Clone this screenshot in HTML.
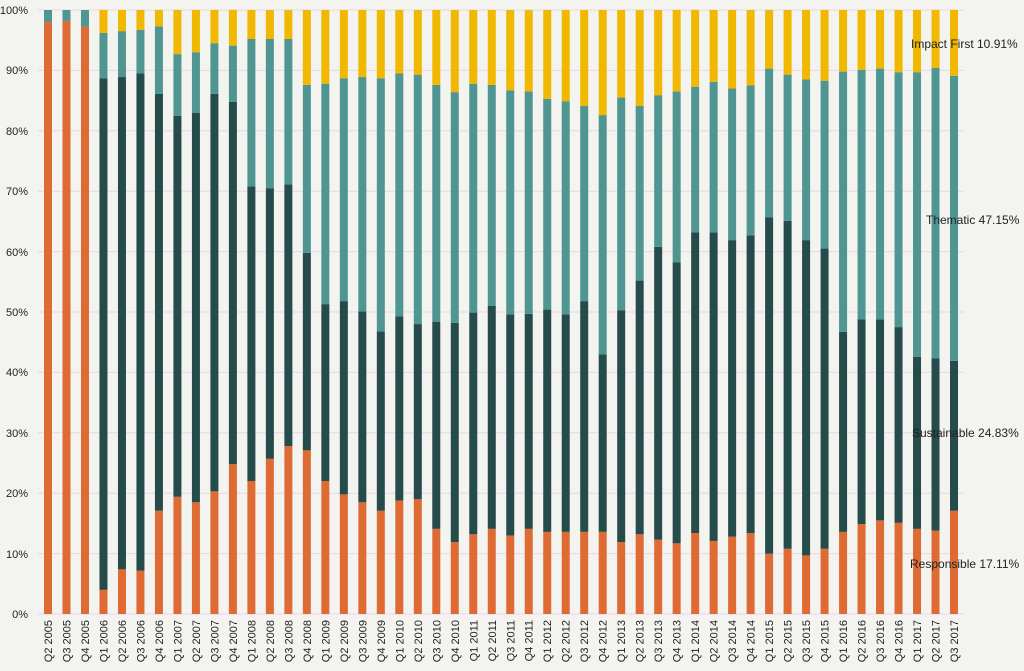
<!DOCTYPE html>
<html><head><meta charset="utf-8"><style>
html,body{margin:0;padding:0;background:#f3f3ef;}
svg{display:block;font-family:"Liberation Sans",sans-serif;}
</style></head><body>
<svg id="c" width="1024" height="671" viewBox="0 0 1024 671">
<rect width="1024" height="671" fill="#f3f3ef"/>
<g id="grid" stroke="#ecd3ec" stroke-width="1"></g>
<g id="bars"></g>
<g font-size="11" fill="#222" text-anchor="end">
<text x="28" y="618">0%</text><text x="28" y="558">10%</text><text x="28" y="497">20%</text><text x="28" y="437">30%</text><text x="28" y="376">40%</text><text x="28" y="316">50%</text><text x="28" y="256">60%</text><text x="28" y="195">70%</text><text x="28" y="135">80%</text><text x="28" y="74">90%</text><text x="28" y="14">100%</text>
</g>
<g id="xl" font-size="11" fill="#222" text-anchor="end">
<text>Q2 2005</text><text>Q3 2005</text><text>Q4 2005</text>
<text>Q1 2006</text><text>Q2 2006</text><text>Q3 2006</text><text>Q4 2006</text>
<text>Q1 2007</text><text>Q2 2007</text><text>Q3 2007</text><text>Q4 2007</text>
<text>Q1 2008</text><text>Q2 2008</text><text>Q3 2008</text><text>Q4 2008</text>
<text>Q1 2009</text><text>Q2 2009</text><text>Q3 2009</text><text>Q4 2009</text>
<text>Q1 2010</text><text>Q2 2010</text><text>Q3 2010</text><text>Q4 2010</text>
<text>Q1 2011</text><text>Q2 2011</text><text>Q3 2011</text><text>Q4 2011</text>
<text>Q1 2012</text><text>Q2 2012</text><text>Q3 2012</text><text>Q4 2012</text>
<text>Q1 2013</text><text>Q2 2013</text><text>Q3 2013</text><text>Q4 2013</text>
<text>Q1 2014</text><text>Q2 2014</text><text>Q3 2014</text><text>Q4 2014</text>
<text>Q1 2015</text><text>Q2 2015</text><text>Q3 2015</text><text>Q4 2015</text>
<text>Q1 2016</text><text>Q2 2016</text><text>Q3 2016</text><text>Q4 2016</text>
<text>Q1 2017</text><text>Q2 2017</text><text>Q3 2017</text>
</g>
<g font-size="12" fill="#222">
<text x="911" y="48">Impact First 10.91%</text>
<text x="926" y="224">Thematic 47.15%</text>
<text x="912" y="437">Sustainable 24.83%</text>
<text x="910" y="568">Responsible 17.11%</text>
</g>
</svg>
<script>
var d=[[98,98,100],[98.2,98.2,100],[97.2,97.2,100],[4,88.7,96.2],[7.4,88.9,96.5],[7.2,89.5,96.7],[17.1,86.1,97.3],[19.4,82.5,92.7],[18.5,83,93],[20.3,86.1,94.5],[24.8,84.8,94.1],[22,70.8,95.2],[25.7,70.5,95.2],[27.8,71.1,95.2],[27.1,59.8,87.6],[22,51.3,87.8],[19.8,51.8,88.7],[18.5,50.1,88.9],[17.1,46.8,88.7],[18.8,49.3,89.5],[19,48,89.3],[14.1,48.4,87.6],[11.9,48.2,86.4],[13.2,49.9,87.8],[14.1,51,87.6],[13,49.6,86.7],[14.1,49.7,86.5],[13.6,50.4,85.3],[13.6,49.6,84.9],[13.6,51.8,84.1],[13.6,43,82.6],[11.9,50.3,85.5],[13.2,55.2,84.1],[12.3,60.8,85.9],[11.7,58.2,86.5],[13.4,63.2,87.3],[12.1,63.2,88.1],[12.8,61.9,87],[13.4,62.7,87.5],[10,65.7,90.3],[10.8,65.1,89.3],[9.7,61.9,88.5],[10.8,60.5,88.3],[13.6,46.7,89.8],[14.9,48.8,90.1],[15.5,48.8,90.3],[15.1,47.5,89.7],[14.1,42.6,89.7],[13.8,42.3,90.4],[17.1,41.9,89.1]];
var ns="http://www.w3.org/2000/svg";
function Y(p){return 614-p*6.04;}
var g=document.getElementById("grid");
for(var i=0;i<=10;i++){var l=document.createElementNS(ns,"line");var y=Y(i*10);l.setAttribute("x1",38);l.setAttribute("x2",964);l.setAttribute("y1",y);l.setAttribute("y2",y);g.appendChild(l);}
var b=document.getElementById("bars");
var cols=["#de6a34","#264b4b","#4f9591","#f0b800"];
function r(x,y1,y2,c){var e=document.createElementNS(ns,"rect");e.setAttribute("x",x);e.setAttribute("y",Y(y2));e.setAttribute("width",8);e.setAttribute("height",Math.max(0,Y(y1)-Y(y2)));e.setAttribute("fill",c);b.appendChild(e);}
var xl=document.getElementById("xl").children;
d.forEach(function(v,i){var cx=48+i*18.49,x=cx-4;
r(x,0,v[0],cols[0]);r(x,v[0],v[1],cols[1]);r(x,v[1],v[2],cols[2]);r(x,v[2],100,cols[3]);
xl[i].setAttribute("transform","translate("+(cx+4)+",620) rotate(-90)");});
</script>
</body></html>
